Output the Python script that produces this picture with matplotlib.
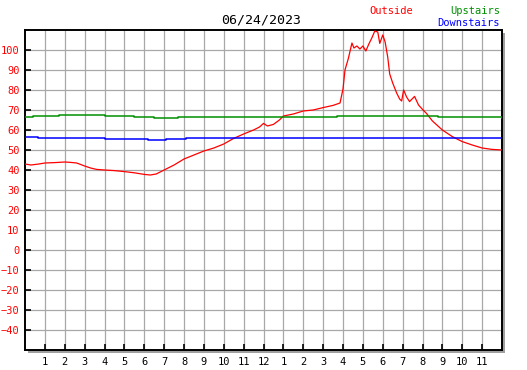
import matplotlib
matplotlib.use('Agg')
import matplotlib.pyplot as plt
from matplotlib.patches import Rectangle

plt.rcParams['font.family'] = 'DejaVu Sans Mono'

title = '06/24/2023'

# outside temperature, hours since midnight
out_hours = [0, 0.3, 0.7, 1.0, 1.5, 2.0, 2.3, 2.6, 3.0, 3.3, 3.6, 4.0, 4.5, 5.0,
             5.5, 6.0, 6.3, 6.6, 7.0, 7.5, 8.0, 8.5, 9.0, 9.5, 10.0, 10.5, 11.0,
             11.5, 11.8, 12.0, 12.2, 12.5, 12.8, 13.0, 13.5, 14.0, 14.5, 15.0,
             15.5, 15.85, 16.0, 16.1, 16.27, 16.45, 16.55, 16.7, 16.85, 17.0,
             17.15, 17.3, 17.45, 17.6, 17.75, 17.85, 18.0, 18.12, 18.25, 18.35,
             18.5, 18.7, 18.85, 18.95, 19.05, 19.2, 19.35, 19.6, 19.8, 20.0,
             20.2, 20.5, 21.0, 21.5, 22.0, 22.5, 23.0, 23.5, 24.0]
out_temps = [43.0, 42.5, 43.0, 43.5, 43.7, 44.0, 43.8, 43.5, 42.0, 41.0, 40.3,
             40.0, 39.7, 39.2, 38.6, 37.8, 37.5, 38.0, 40.0, 42.5, 45.5, 47.5,
             49.5, 51.0, 53.0, 55.8, 58.0, 60.0, 61.5, 63.3, 62.0, 62.8, 65.0,
             67.0, 68.0, 69.5, 70.0, 71.2, 72.3, 73.5, 80.5, 90.0, 95.8, 103.5,
             101.0, 102.0, 100.5, 102.0, 99.5, 103.0, 106.0, 109.5, 109.0, 103.3,
             107.5, 104.0, 96.5, 88.0, 83.5, 78.5, 75.5, 74.5, 80.0, 76.5, 74.2,
             76.8, 72.5, 70.3, 68.3, 64.5, 60.0, 56.7, 54.2, 52.5, 51.0, 50.3,
             50.0]

up_hours = [0, 0.4, 1.7, 4.0, 5.5, 6.5, 7.7, 8.0, 15.6, 15.7, 20.75, 20.8, 22.7, 24.0]
up_temps = [66.3, 67.0, 67.5, 67.0, 66.5, 65.8, 66.3, 66.3, 66.3, 66.8, 66.8, 66.3, 66.3, 65.8]

down_hours = [0, 0.6, 0.65, 4.0, 6.1, 6.2, 7.0, 7.1, 8.1, 24.0]
down_temps = [56.3, 56.3, 55.8, 55.6, 55.5, 54.8, 54.8, 55.3, 55.8, 55.8]

hour_ticks = list(range(1, 24))
hour_labels = [str(h) for h in range(1, 13)] + [str(h) for h in range(1, 12)]
temp_ticks = list(range(-40, 101, 10))

W, H = 527, 370
fig = plt.figure(figsize=(W / 100, H / 100), dpi=100)
left, right, top, bottom = 25, 502, 30, 350
ax = fig.add_axes([left / W, 1 - bottom / H, (right - left) / W, (bottom - top) / H])

# drop shadow behind the frame
fig.patches.append(Rectangle(((left + 3) / W, 1 - (bottom + 3) / H),
                             (right - left) / W, (bottom - top) / H,
                             transform=fig.transFigure, facecolor='#a0a0a0',
                             edgecolor='none', zorder=-1))

ax.plot(out_hours, out_temps, color='#ff0000', lw=0.9, zorder=3)
ax.plot(up_hours, up_temps, color='#009000', lw=1.1, drawstyle='steps-post', zorder=3)
ax.plot(down_hours, down_temps, color='#0000ff', lw=1.1, drawstyle='steps-post', zorder=3)

ax.set_xlim(0, 24)
ax.set_ylim(-50, 110)
ax.set_xticks(hour_ticks)
ax.set_xticklabels(hour_labels)
ax.set_yticks(temp_ticks)
ax.grid(True, color='#a8a8a8', lw=0.9)
ax.set_axisbelow(True)
ax.tick_params(axis='x', direction='in', length=4, width=1.2, pad=5,
               labelsize=7.5, colors='black')
ax.tick_params(axis='y', direction='in', length=4, width=1.2, pad=4,
               labelsize=7.5, labelcolor='#ff0000', color='black')
for s in ax.spines.values():
    s.set_linewidth(1.4)

fig.text(261 / W, 1 - 20 / H, title, ha='center', va='center', fontsize=9.5)
fig.text(369 / W, 1 - 11 / H, 'Outside', ha='left', va='center', fontsize=7.5, color='#ff0000')
fig.text(500 / W, 1 - 11 / H, 'Upstairs', ha='right', va='center', fontsize=7.5, color='#009000')
fig.text(500 / W, 1 - 23 / H, 'Downstairs', ha='right', va='center', fontsize=7.5, color='#0000ff')

fig.savefig('out.png', dpi=100)
